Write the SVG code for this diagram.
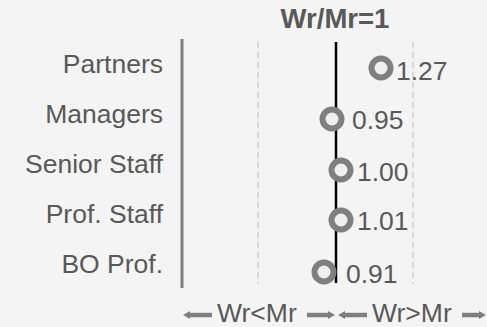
<svg xmlns="http://www.w3.org/2000/svg" width="487" height="327" viewBox="0 0 487 327">
  <style>
    .lbl { font-family: "Liberation Sans", Arial, sans-serif; font-size: 26.5px; fill: #595959; }
    .cat { text-anchor: end; }
    .title { font-weight: bold; text-anchor: middle; font-size: 27.5px; }
    .dot { fill: #efefef; stroke: #7f7f7f; stroke-width: 6; }
    .grid { stroke: #d9d9d9; stroke-width: 2; stroke-dasharray: 6 4; fill: none; }
    .arr { stroke: #7f7f7f; stroke-width: 4.5; fill: none; }
    .head { fill: #7f7f7f; }
  </style>
  <rect x="0" y="0" width="487" height="327" fill="#f4f4f4"/>

  <g id="axes">
    <line x1="182" y1="39" x2="182" y2="288" stroke="#808080" stroke-width="3"/>
    <line class="grid" x1="258" y1="42" x2="258" y2="284"/>
    <line class="grid" x1="413" y1="42" x2="413" y2="284"/>
    <line x1="336" y1="42" x2="336" y2="283" stroke="#000" stroke-width="2.5"/>
    <text class="lbl title" x="335" y="28">Wr/Mr=1</text>
  </g>

  <g id="partners">
    <text class="lbl cat" x="163" y="73">Partners</text>
    <circle class="dot" cx="381" cy="68" r="9.5"/>
    <text class="lbl" x="396" y="80">1.27</text>
  </g>
  <g id="managers">
    <text class="lbl cat" x="163" y="123">Managers</text>
    <circle class="dot" cx="332" cy="119" r="9.5"/>
    <text class="lbl" x="352" y="129">0.95</text>
  </g>
  <g id="senior-staff">
    <text class="lbl cat" x="163" y="173">Senior Staff</text>
    <circle class="dot" cx="341" cy="170" r="9.5"/>
    <text class="lbl" x="357" y="181">1.00</text>
  </g>
  <g id="prof-staff">
    <text class="lbl cat" x="163" y="223">Prof. Staff</text>
    <circle class="dot" cx="341" cy="220" r="9.5"/>
    <text class="lbl" x="357" y="230">1.01</text>
  </g>
  <g id="bo-prof">
    <text class="lbl cat" x="163" y="273">BO Prof.</text>
    <circle class="dot" cx="324" cy="272" r="9.5"/>
    <text class="lbl" x="346" y="283">0.91</text>
  </g>

  <g id="connectors">
    <line class="arr" x1="188" y1="315" x2="212" y2="315"/>
    <polygon class="head" points="183,315 190,311 190,319"/>
    <line class="arr" x1="307" y1="315" x2="330" y2="315"/>
    <polygon class="head" points="335,315 328,311 328,319"/>
    <line class="arr" x1="343" y1="315" x2="367" y2="315"/>
    <polygon class="head" points="338,315 345,311 345,319"/>
    <line class="arr" x1="462" y1="315" x2="481" y2="315"/>
    <polygon class="head" points="486,315 479,311 479,319"/>
  </g>
  <g id="direction-labels">
    <text class="lbl" x="217" y="322">Wr&lt;Mr</text>
    <text class="lbl" x="372" y="322">Wr&gt;Mr</text>
  </g>
</svg>
